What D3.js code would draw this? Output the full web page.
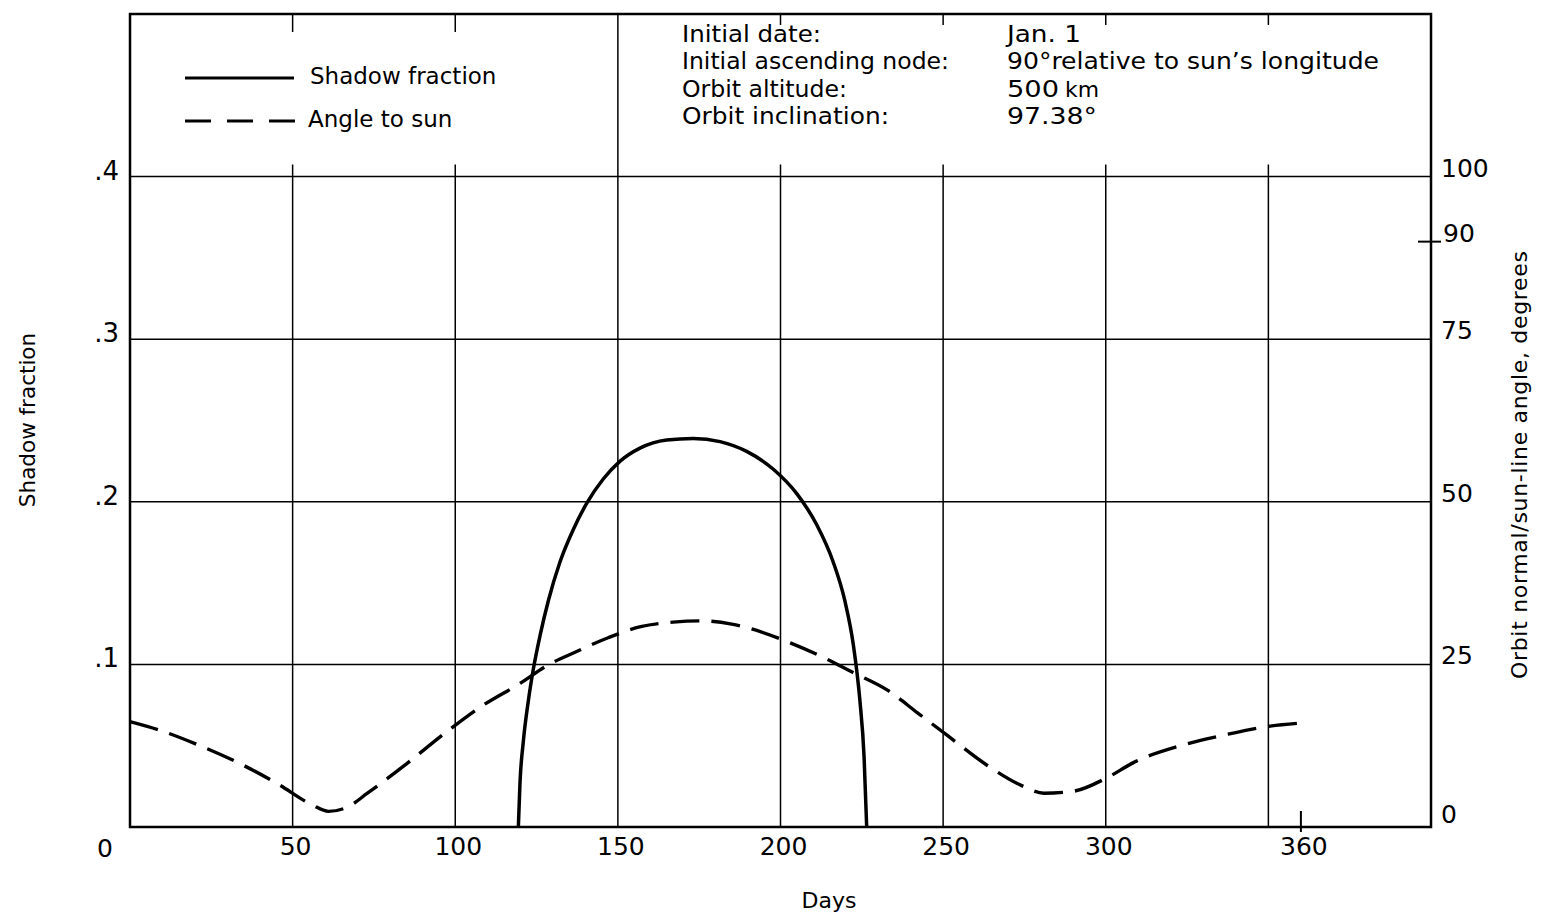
<!DOCTYPE html>
<html><head><meta charset="utf-8">
<script src="https://cdn.jsdelivr.net/npm/d3@7"></script>
<style>body{margin:0;background:#fff} svg{display:block}</style>
</head><body><svg id="c" width="1541" height="917"></svg>
<script>
// ---------- data ----------
const gridDays = [50, 100, 150, 200, 250, 300, 350];
const dayTicks = [50, 100, 150, 200, 250, 300, 360];
const fracTicks = [0.1, 0.2, 0.3, 0.4];
const fracLabels = [".1", ".2", ".3", ".4"];
const angleTicks = [0, 25, 50, 75, 90, 100];

const shadowDays = [119.4, 119.9, 120.9, 122.5, 124.0, 126.1, 128.6, 132.2, 136.3, 140.4, 145.5, 150.7, 156.8, 165.0, 173.2, 181.4, 189.6, 197.8, 205.0, 211.1, 216.2, 219.8, 222.4, 224.4, 225.7, 226.5];
const shadowFrac = [0, 0.027, 0.052, 0.078, 0.097, 0.118, 0.139, 0.163, 0.183, 0.199, 0.214, 0.225, 0.233, 0.238, 0.239, 0.237, 0.231, 0.220, 0.205, 0.186, 0.163, 0.139, 0.112, 0.078, 0.043, 0];

const angleDays = [0, 9, 21.5, 34, 45.5, 56, 61, 67, 73, 85, 97, 108.5, 120, 128.5, 136.5, 147, 157, 167, 175.5, 185, 194, 203, 213.5, 222.5, 233, 242, 251.5, 263.5, 274, 281, 290, 300.5, 308.5, 323, 337, 350.5, 360.5];
const angleDeg = [16.2, 14.9, 12.5, 9.7, 6.6, 3.4, 2.4, 3.1, 5.2, 9.7, 14.5, 18.7, 22.1, 24.9, 26.8, 29.1, 30.8, 31.5, 31.7, 31.2, 30.0, 28.3, 26.0, 23.7, 21.0, 17.6, 14.0, 9.5, 6.4, 5.2, 5.5, 7.6, 9.9, 12.5, 14.2, 15.5, 16.0];

const legendNames = ["Shadow fraction", "Angle to sun"];
const infoLabels = ["Initial date:", "Initial ascending node:", "Orbit altitude:", "Orbit inclination:"];
const infoValues = ["Jan. 1", "90°relative to sun’s longitude", "500", "97.38°"];

// ---------- layout ----------
const svg = d3.select("#c");
const M = {left: 130, right: 1431, top: 14, bottom: 827};
const x = d3.scaleLinear().domain([0, 400]).range([M.left, M.right]);
const y = d3.scaleLinear().domain([0, 0.5]).range([M.bottom, M.top]);
const y2 = d3.scaleLinear().domain([0, 125]).range([M.bottom, M.top]);
const FONT = "'DejaVu Sans', Verdana, sans-serif";
const NARROW = "'DejaVu Sans Condensed', 'DejaVu Sans', sans-serif";

// horizontal grid
svg.append("g").selectAll("line").data(fracTicks).join("line")
  .attr("x1", x(0)).attr("x2", x(400))
  .attr("y1", d => y(d)).attr("y2", d => y(d))
  .attr("stroke", "#000").attr("stroke-width", 1.5);

// vertical grid (interrupted in legend/info area, except the box edge at 150)
const vg = svg.append("g");
gridDays.forEach(d => {
  if (d === 150) {
    vg.append("line").attr("x1", x(d)).attr("x2", x(d)).attr("y1", y(0.5)).attr("y2", y(0))
      .attr("stroke", "#000").attr("stroke-width", 1.5);
  } else {
    const stub = d < 150 ? 18 : 11;
    vg.append("line").attr("x1", x(d)).attr("x2", x(d)).attr("y1", y(0.5)).attr("y2", y(0.5) + stub)
      .attr("stroke", "#000").attr("stroke-width", 1.5);
    vg.append("line").attr("x1", x(d)).attr("x2", x(d)).attr("y1", y(0.4) - 12).attr("y2", y(0))
      .attr("stroke", "#000").attr("stroke-width", 1.5);
  }
});

// frame
svg.append("rect").attr("x", x(0)).attr("y", y(0.5))
  .attr("width", x(400) - x(0)).attr("height", y(0) - y(0.5))
  .attr("fill", "none").attr("stroke", "#000").attr("stroke-width", 2.5);

// special tick marks (360 days, 90 degrees)
svg.append("line").attr("x1", x(360)).attr("x2", x(360)).attr("y1", y(0) - 16).attr("y2", y(0) + 5)
  .attr("stroke", "#000").attr("stroke-width", 2);
svg.append("line").attr("x1", x(400) - 13).attr("x2", x(400) + 10).attr("y1", y2(90)).attr("y2", y2(90))
  .attr("stroke", "#000").attr("stroke-width", 2);

// x tick labels
svg.append("g").selectAll("text").data(dayTicks).join("text")
  .attr("x", d => x(d) + 3).attr("y", 855)
  .attr("text-anchor", "middle").attr("font-family", FONT).attr("font-size", 25)
  .text(d => d);
svg.append("text").attr("x", 105).attr("y", 857).attr("text-anchor", "middle")
  .attr("font-family", FONT).attr("font-size", 25).text("0");

// left tick labels
svg.append("g").selectAll("text").data(fracTicks).join("text")
  .attr("x", 119).attr("y", d => y(d) + 3)
  .attr("text-anchor", "end").attr("font-family", FONT).attr("font-size", 26)
  .text((d, i) => fracLabels[i]);

// right tick labels
svg.append("g").selectAll("text").data(angleTicks).join("text")
  .attr("x", d => d === 90 ? 1443 : 1441).attr("y", d => y2(d) + (d === 0 ? -4 : 0))
  .attr("font-family", FONT).attr("font-size", 25)
  .text(d => d);

// axis titles
svg.append("text").attr("transform", "translate(35,420) rotate(-90)")
  .attr("text-anchor", "middle").attr("font-family", FONT).attr("font-size", 21.5)
  .text("Shadow fraction");
svg.append("text").attr("transform", "translate(1527,465) rotate(-90)")
  .attr("text-anchor", "middle").attr("font-family", FONT).attr("font-size", 22)
  .attr("textLength", 428).attr("lengthAdjust", "spacing")
  .text("Orbit normal/sun-line angle, degrees");
svg.append("text").attr("x", 829).attr("y", 908).attr("text-anchor", "middle")
  .attr("font-family", FONT).attr("font-size", 22).text("Days");

// curves
const shadowPts = shadowDays.map((d, i) => [d, shadowFrac[i]]);
const anglePts = angleDays.map((d, i) => [d, angleDeg[i]]);
svg.append("path").datum(shadowPts)
  .attr("d", d3.line().x(d => x(d[0])).y(d => y(d[1])).curve(d3.curveMonotoneX))
  .attr("fill", "none").attr("stroke", "#000").attr("stroke-width", 3.5);
svg.append("path").datum(anglePts)
  .attr("d", d3.line().x(d => x(d[0])).y(d => y2(d[1])).curve(d3.curveMonotoneX))
  .attr("fill", "none").attr("stroke", "#000").attr("stroke-width", 3.4)
  .attr("stroke-dasharray", "29,12");

// legend
const lg = svg.append("g");
lg.append("line").attr("x1", 185).attr("x2", 294).attr("y1", 78).attr("y2", 78)
  .attr("stroke", "#000").attr("stroke-width", 3);
lg.append("line").attr("x1", 185).attr("x2", 295).attr("y1", 121).attr("y2", 121)
  .attr("stroke", "#000").attr("stroke-width", 3).attr("stroke-dasharray", "26,16");
lg.selectAll("text").data(legendNames).join("text")
  .attr("x", (d, i) => i === 0 ? 310 : 308).attr("y", (d, i) => i === 0 ? 84 : 127)
  .attr("font-family", FONT).attr("font-size", 23).text(d => d);

// info block
const labelW = [139, 267, 165, 207];
const valueW = [74, 372, null, 90];
const ig = svg.append("g").attr("font-family", NARROW).attr("font-size", 23)
  .attr("font-stretch", "condensed");
ig.selectAll("text.l").data(infoLabels).join("text").attr("class", "l")
  .attr("x", 682).attr("y", (d, i) => 42 + i * 27.3)
  .attr("textLength", (d, i) => labelW[i]).attr("lengthAdjust", "spacingAndGlyphs")
  .text(d => d);
const iv = ig.selectAll("text.v").data(infoValues).join("text").attr("class", "v")
  .attr("x", 1007).attr("y", (d, i) => 42 + i * 27.3)
  .each(function (d, i) {
    const t = d3.select(this);
    if (valueW[i]) {
      t.attr("textLength", valueW[i]).attr("lengthAdjust", "spacingAndGlyphs").text(d);
    } else {
      t.append("tspan").attr("textLength", 52).attr("lengthAdjust", "spacingAndGlyphs").text(d);
      t.append("tspan").attr("dx", 6).attr("font-size", 21)
        .attr("textLength", 34).attr("lengthAdjust", "spacingAndGlyphs").text("km");
    }
  });
</script></body></html>
